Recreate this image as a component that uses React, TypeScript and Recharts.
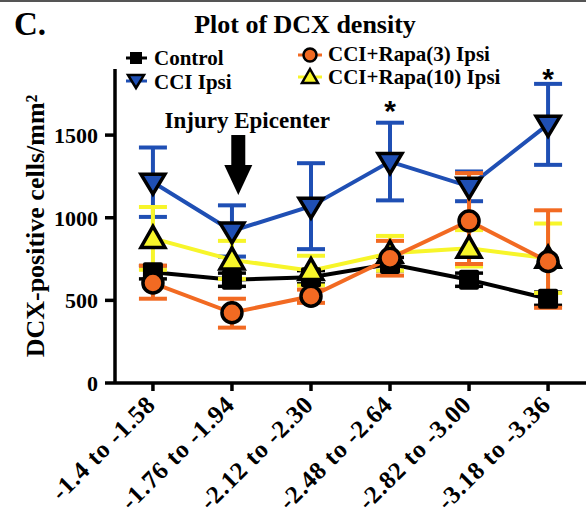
import React from 'react';
import { LineChart, Line, XAxis, YAxis, ErrorBar, Legend, ReferenceDot, Label } from 'recharts';

const categories = ['-1.4 to -1.58', '-1.76 to -1.94', '-2.12 to -2.30', '-2.48 to -2.64', '-2.82 to -3.00', '-3.18 to -3.36'];
const controlMean = [670, 625, 640, 720, 625, 510];
const controlErr = [40, 40, 40, 40, 40, 40];
const cciMean = [1215, 920, 1070, 1340, 1190, 1565];
const cciErr = [210, 155, 260, 235, 90, 245];
const rapa3Mean = [605, 425, 525, 755, 980, 735];
const rapa3Err = [[95, 105], [90, 85], [40, 40], [105, 105], [260, 290], [280, 310]];
const rapa10Mean = [875, 745, 680, 785, 815, 755];
const rapa10Err = [190, 115, 90, 105, 110, 210];
const yTicks = [0, 500, 1000, 1500];
const xTicks = [0, 1, 2, 3, 4, 5];
const starPoints = [{ x: 3, y: 1690 }, { x: 5, y: 1880 }];
const epicenter = { x: 1.08, y: 1319 };

const BLUE = '#1f4fb4';
const ORANGE = '#f26a22';
const YELLOW = '#f7f52a';
const FONT = '"Liberation Serif", "Times New Roman", serif';

const data = categories.map((c, i) => ({
  x: i,
  control: controlMean[i],
  controlErr: controlErr[i],
  cci: cciMean[i],
  cciErr: cciErr[i],
  rapa3: rapa3Mean[i],
  rapa3Err: rapa3Err[i],
  rapa10: rapa10Mean[i],
  rapa10Err: rapa10Err[i],
}));

const squareDot = (props: any) => {
  const { cx, cy, index } = props;
  return <rect key={`sq-${index}`} x={cx - 10} y={cy - 10} width={20} height={20} rx={2} fill="#000" />;
};
const invTriDot = (props: any) => {
  const { cx, cy, index } = props;
  return (
    <path key={`it-${index}`} d={`M${cx - 12},${cy - 8} L${cx + 12},${cy - 8} L${cx},${cy + 12} Z`}
      fill={BLUE} stroke="#000" strokeWidth={3.5} strokeLinejoin="miter" />
  );
};
const triDot = (props: any) => {
  const { cx, cy, index } = props;
  return (
    <path key={`t-${index}`} d={`M${cx - 12},${cy + 9} L${cx + 12},${cy + 9} L${cx},${cy - 12} Z`}
      fill={YELLOW} stroke="#000" strokeWidth={3.5} strokeLinejoin="miter" />
  );
};
const circleDot = (props: any) => {
  const { cx, cy, index } = props;
  return <circle key={`c-${index}`} cx={cx} cy={cy} r={10} fill={ORANGE} stroke="#000" strokeWidth={3.5} />;
};

const XTick = (props: any) => {
  const { x, y, payload } = props;
  const tx = x + 4;
  const ty = y + 13;
  return (
    <text x={tx} y={ty} transform={`rotate(-45, ${tx}, ${ty})`} textAnchor="end"
      fontFamily={FONT} fontWeight="bold" fontSize={25} letterSpacing={0.8} fill="#000">
      {categories[payload.value]}
    </text>
  );
};

const LegendContent = () => {
  const textStyle = { fontFamily: FONT, fontWeight: 'bold' as const, fontSize: 21, fill: '#000' };
  return (
    <svg width={586} height={100} style={{ position: 'absolute', left: 0, top: 0, overflow: 'visible' }}>
      <rect x={0} y={0} width={586} height={2} fill="#555" />
      <text x={14} y={35} style={{ ...textStyle, fontSize: 33 }}>C.</text>
      <text x={305} y={33} textAnchor="middle" style={{ ...textStyle, fontSize: 26 }}>Plot of DCX density</text>
      {/* Control */}
      <line x1={126} x2={147} y1={58} y2={58} stroke="#000" strokeWidth={3} />
      <rect x={130} y={52} width={12} height={12} fill="#000" />
      <text x={154} y={65} style={textStyle}>Control</text>
      {/* CCI Ipsi */}
      <line x1={126} x2={147} y1={81} y2={81} stroke={BLUE} strokeWidth={3} />
      <path d="M128,75 L144,75 L136,88 Z" fill={BLUE} stroke="#000" strokeWidth={2.5} />
      <text x={154} y={89} style={textStyle}>CCI Ipsi</text>
      {/* Rapa3 */}
      <line x1={298} x2={322} y1={55} y2={55} stroke={ORANGE} strokeWidth={3} />
      <circle cx={310} cy={55} r={6.5} fill={ORANGE} stroke="#000" strokeWidth={2.5} />
      <text x={328} y={61} style={textStyle}>CCI+Rapa(3) Ipsi</text>
      {/* Rapa10 */}
      <line x1={298} x2={322} y1={77} y2={77} stroke={YELLOW} strokeWidth={3} />
      <path d="M302,83 L318,83 L310,69 Z" fill={YELLOW} stroke="#000" strokeWidth={2.5} />
      <text x={328} y={84} style={textStyle}>CCI+Rapa(10) Ipsi</text>
    </svg>
  );
};

const starShape = (props: any) => {
  const { cx, cy } = props;
  return (
    <text x={cx} y={cy + 17} textAnchor="middle" fontFamily='"Liberation Sans", Arial, sans-serif'
      fontWeight="bold" fontSize={30} fill="#000">*</text>
  );
};

const arrowShape = (props: any) => {
  const { cx, cy } = props;
  return (
    <g>
      <rect x={cx - 7} y={cy - 30} width={14} height={31} fill="#000" />
      <path d={`M${cx - 14},${cy} L${cx + 14},${cy} L${cx},${cy + 30} Z`} fill="#000" />
      <text x={cx + 9} y={cy - 37} textAnchor="middle" fontFamily={FONT} fontWeight="bold" fontSize={23} fill="#000">
        Injury Epicenter
      </text>
    </g>
  );
};

export default function App() {
  return (
    <div style={{ position: 'absolute', left: 0, top: 0, width: 586, height: 514, background: '#fff' }}>
      <LineChart width={586} height={514} data={data} margin={{ top: 69, right: 0, bottom: 0, left: 0 }}>
        <XAxis
          type="number"
          dataKey="x"
          domain={[-0.48, 5.48]}
          ticks={xTicks}
          allowDataOverflow
          height={131}
          tickSize={8}
          axisLine={{ stroke: '#000', strokeWidth: 3.5 }}
          tickLine={{ stroke: '#000', strokeWidth: 3.5 }}
          tick={<XTick />}
          interval={0}
        />
        <YAxis
          type="number"
          domain={[0, 1900]}
          ticks={yTicks}
          allowDataOverflow
          width={115}
          tickSize={10}
          tickMargin={7}
          axisLine={{ stroke: '#000', strokeWidth: 3.5 }}
          tickLine={{ stroke: '#000', strokeWidth: 3.5 }}
          tick={{ fill: '#000', fontSize: 22, fontWeight: 'bold', fontFamily: FONT }}
        >
          <Label
            content={() => (
              <text x={44} y={226} transform="rotate(-90, 44, 226)" textAnchor="middle"
                fontFamily={FONT} fontWeight="bold" fontSize={26} fill="#000">
                DCX-positive cells/mm²
              </text>
            )}
          />
        </YAxis>
        <Legend
          content={<LegendContent />}
          wrapperStyle={{ position: 'absolute', left: 0, top: 0, width: 0, height: 0, overflow: 'visible' }}
        />
        <Line dataKey="control" stroke="#000" strokeWidth={4} dot={squareDot} isAnimationActive={false}>
          <ErrorBar dataKey="controlErr" direction="y" width={14} stroke="#000" strokeWidth={3.5} />
        </Line>
        <Line dataKey="cci" stroke={BLUE} strokeWidth={4} dot={invTriDot} isAnimationActive={false}>
          <ErrorBar dataKey="cciErr" direction="y" width={14} stroke={BLUE} strokeWidth={4} />
        </Line>
        <Line dataKey="rapa10" stroke={YELLOW} strokeWidth={4} dot={triDot} isAnimationActive={false}>
          <ErrorBar dataKey="rapa10Err" direction="y" width={14} stroke={YELLOW} strokeWidth={4} />
        </Line>
        <Line dataKey="rapa3" stroke={ORANGE} strokeWidth={4} dot={circleDot} isAnimationActive={false}>
          <ErrorBar dataKey="rapa3Err" direction="y" width={14} stroke={ORANGE} strokeWidth={4} />
        </Line>
        {starPoints.map((s, i) => (
          <ReferenceDot key={`star-${i}`} x={s.x} y={s.y} r={0} shape={starShape} ifOverflow="visible" />
        ))}
        <ReferenceDot x={epicenter.x} y={epicenter.y} r={0} shape={arrowShape} ifOverflow="visible" />
      </LineChart>
    </div>
  );
}
